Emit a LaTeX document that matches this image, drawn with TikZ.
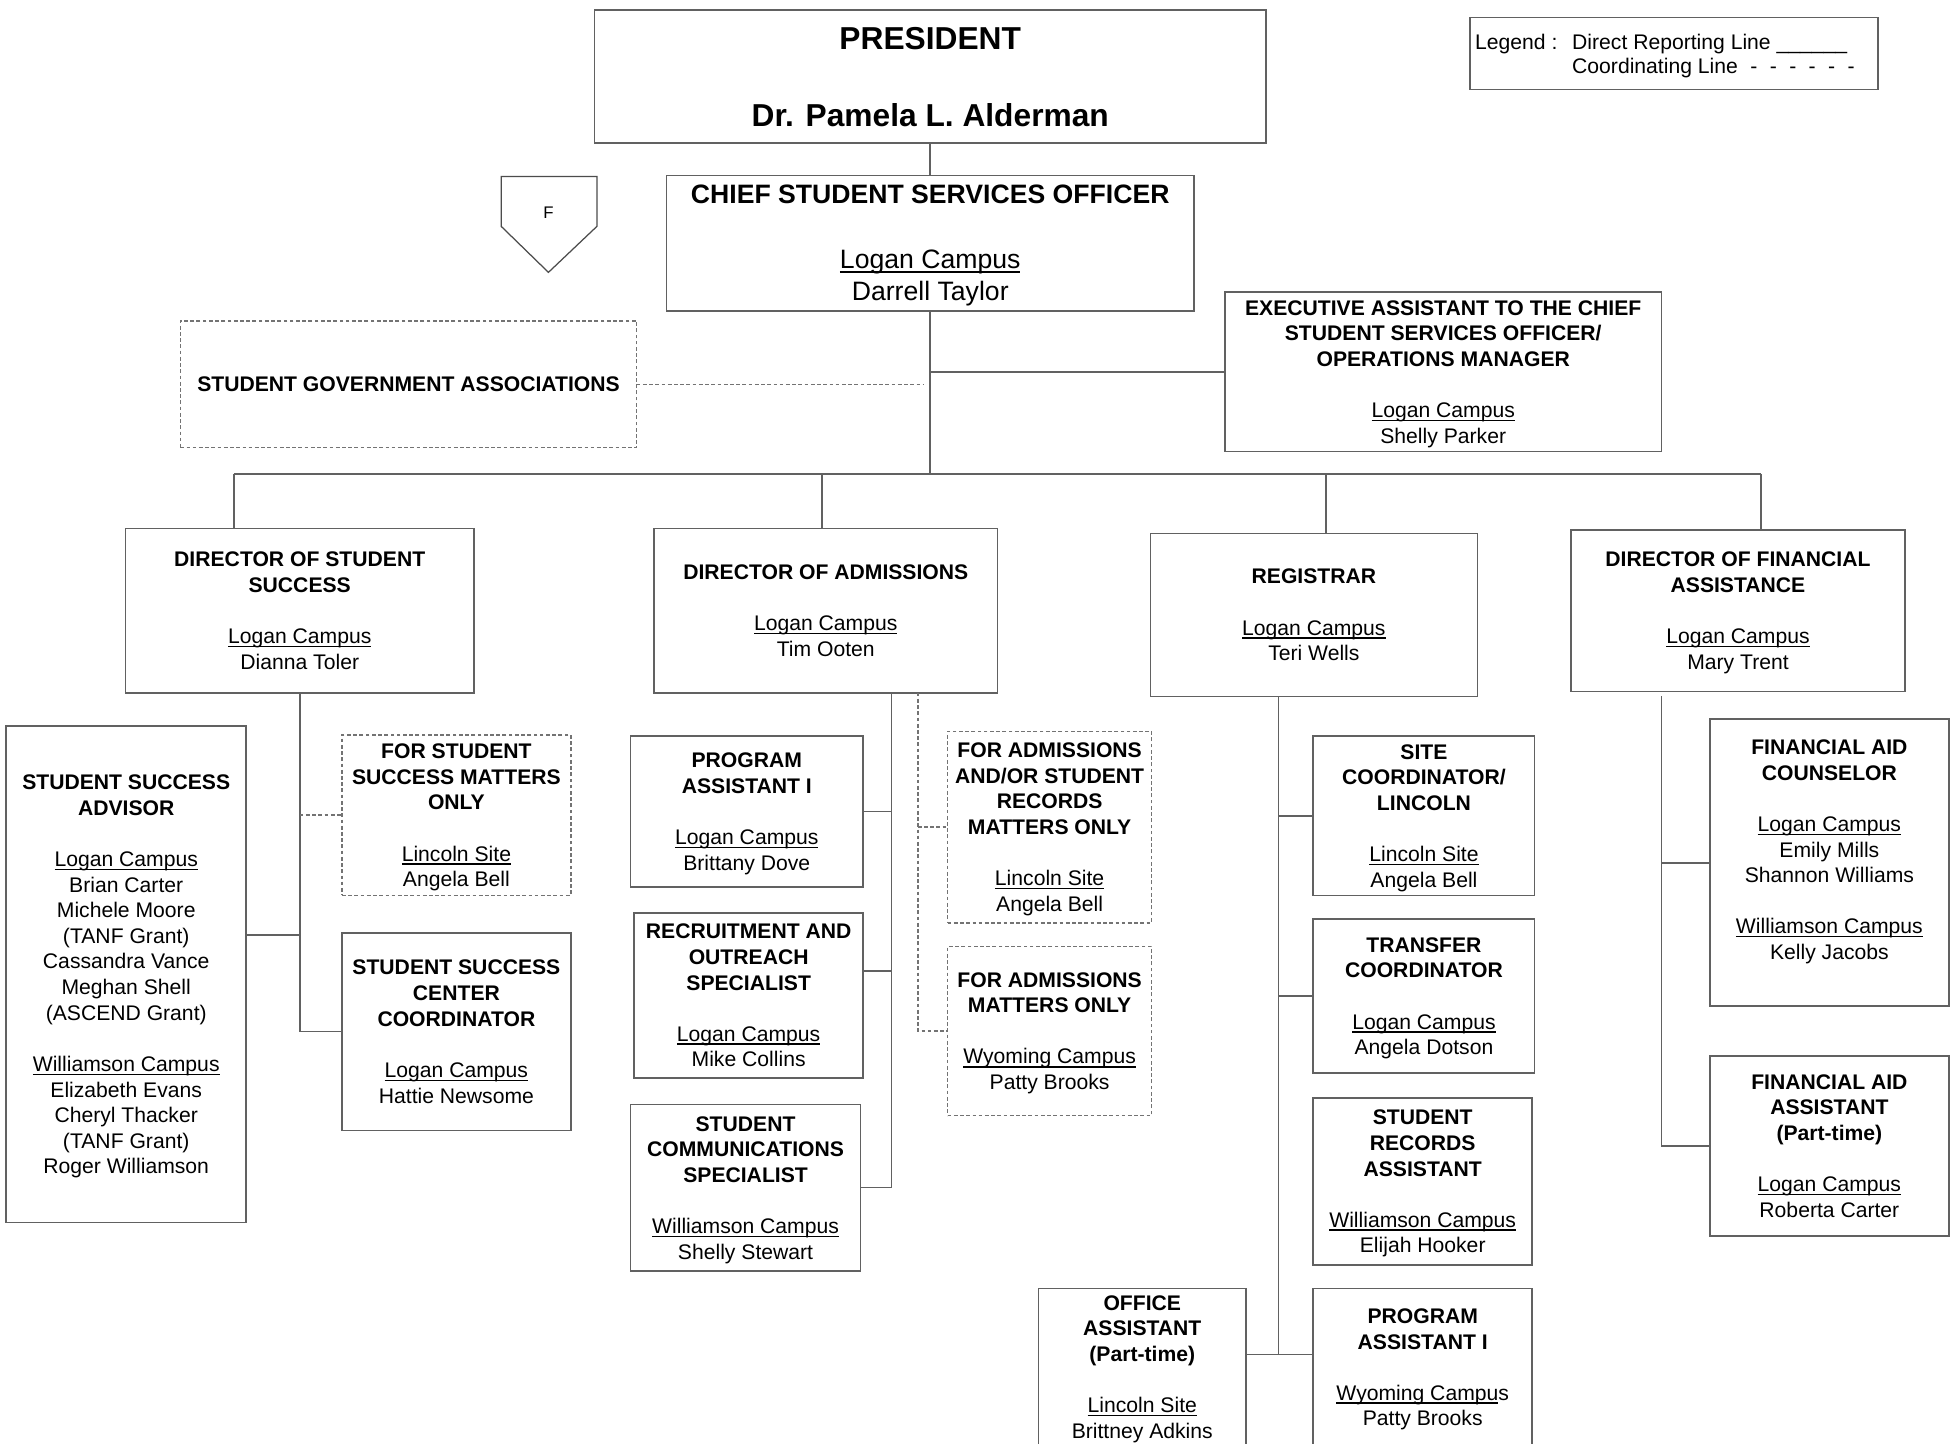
\documentclass[tikz,border=0pt]{standalone}
\usepackage{fontspec}
\setmainfont{Liberation Sans}
\newlength\ulw
\newcommand\myul[1]{\settowidth\ulw{#1}\rlap{\rule[-0.17em]{\ulw}{0.07em}}#1}
\newcommand\bx[7]{\node[#6, minimum width={#4-#2}, minimum height={#5-#3}] (#1) at ({(#2+#4)/2},{(#3+#5)/2}) {#7};}
\newcommand\tb[1]{\textbf{#1}}
\begin{document}
\begin{tikzpicture}[x=1pt,y=-1pt,
  lnk/.style={draw=black!62, line width=1.3pt},
  dlnk/.style={draw=black!55, line width=1.2pt, dash pattern=on 3pt off 2pt},
  bxs/.style={draw=black!62, line width=1.3pt, rectangle, inner sep=0pt, outer sep=0pt, align=center, text depth=0pt, font=\fontsize{17pt}{20.6pt}\selectfont},
  dbxs/.style={bxs, draw=black!55, line width=1.2pt, dash pattern=on 3pt off 2pt}]
\useasboundingbox (0,0) rectangle (1568,1161);
\fill[white] (0,0) rectangle (1568,1161);
\clip (0,0) rectangle (1568,1161);

% top
\bx{pres}{478}{8}{1018}{115}{bxs, font=\fontsize{25.5pt}{31pt}\selectfont\bfseries}{PRESIDENT\\[31pt]Dr. Pamela L. Alderman}
\bx{cso}{536}{141}{960}{250}{bxs, font=\fontsize{21.4pt}{26pt}\selectfont}{\tb{CHIEF STUDENT SERVICES OFFICER}\\[26pt]\myul{Logan Campus}\\Darrell Taylor}
\bx{exec}{985}{235}{1336}{363}{bxs}{\tb{EXECUTIVE ASSISTANT TO THE CHIEF}\\\tb{STUDENT SERVICES OFFICER/}\\\tb{OPERATIONS MANAGER}\\[20.6pt]\myul{Logan Campus}\\Shelly Parker}
\bx{sga}{145}{258}{512}{360}{dbxs}{\tb{STUDENT GOVERNMENT ASSOCIATIONS}}

% F marker
\draw[draw=black!70, line width=1pt] (403,142) -- (480,142) -- (480,182) -- (441,219) -- (403,182) -- cycle;
\node[font=\fontsize{13.5pt}{16pt}\selectfont, inner sep=0pt] (flabel) at (441,171) {F};

% legend
\bx{legend}{1182}{14}{1510}{72}{bxs}{}
\node[font=\fontsize{17pt}{20.6pt}\selectfont, inner sep=0pt, anchor=base west] (leglbl) at (1186,39.6) {Legend :};
\node[font=\fontsize{17pt}{20.6pt}\selectfont, inner sep=0pt, anchor=base west] (leg1) at (1264,39.6) {Direct Reporting Line \_\_\_\_\_\_};
\node[font=\fontsize{17pt}{20.6pt}\selectfont, inner sep=0pt, anchor=base west] (leg2) at (1264,58.9) {Coordinating Line\hspace{10pt}-\hspace{10pt}-\hspace{10pt}-\hspace{10pt}-\hspace{10pt}-\hspace{10pt}-};

% directors
\bx{dss}{101}{425}{381}{557}{bxs}{\tb{DIRECTOR OF STUDENT}\\\tb{SUCCESS}\\[20.6pt]\myul{Logan Campus}\\Dianna Toler}
\bx{doa}{526}{425}{802}{557}{bxs}{\tb{DIRECTOR OF ADMISSIONS}\\[20.6pt]\myul{Logan Campus}\\Tim Ooten}
\bx{reg}{925}{429}{1188}{560}{bxs}{\tb{REGISTRAR}\\[20.6pt]\myul{Logan Campus}\\Teri Wells}
\bx{dfa}{1263}{426}{1532}{556}{bxs}{\tb{DIRECTOR OF FINANCIAL}\\\tb{ASSISTANCE}\\[20.6pt]\myul{Logan Campus}\\Mary Trent}

% student success
\bx{ssa}{5}{584}{198}{983}{bxs}{\tb{STUDENT SUCCESS}\\\tb{ADVISOR}\\[20.6pt]\myul{Logan Campus}\\Brian Carter\\Michele Moore\\(TANF Grant)\\Cassandra Vance\\Meghan Shell\\(ASCEND Grant)\\[20.6pt]\myul{Williamson Campus}\\Elizabeth Evans\\Cheryl Thacker\\(TANF Grant)\\Roger Williamson}
\bx{fssmo}{275}{591}{459}{720}{dbxs}{\tb{FOR STUDENT}\\\tb{SUCCESS MATTERS}\\\tb{ONLY}\\[20.6pt]\myul{Lincoln Site}\\Angela Bell}
\bx{sscc}{275}{750}{459}{909}{bxs}{\tb{STUDENT SUCCESS}\\\tb{CENTER}\\\tb{COORDINATOR}\\[20.6pt]\myul{Logan Campus}\\Hattie Newsome}

% admissions
\bx{pa1}{507}{592}{694}{713}{bxs}{\tb{PROGRAM}\\\tb{ASSISTANT I}\\[20.6pt]\myul{Logan Campus}\\Brittany Dove}
\bx{ros}{510}{734}{694}{867}{bxs}{\tb{RECRUITMENT AND}\\\tb{OUTREACH}\\\tb{SPECIALIST}\\[20.6pt]\myul{Logan Campus}\\Mike Collins}
\bx{scs}{507}{888}{692}{1022}{bxs}{\tb{STUDENT}\\\tb{COMMUNICATIONS}\\\tb{SPECIALIST}\\[20.6pt]\myul{Williamson Campus}\\Shelly Stewart}
\bx{faas}{762}{588}{926}{742}{dbxs}{\tb{FOR ADMISSIONS}\\\tb{AND/OR STUDENT}\\\tb{RECORDS}\\\tb{MATTERS ONLY}\\[20.6pt]\myul{Lincoln Site}\\Angela Bell}
\bx{famo}{762}{761}{926}{897}{dbxs}{\tb{FOR ADMISSIONS}\\\tb{MATTERS ONLY}\\[20.6pt]\myul{Wyoming Campus}\\Patty Brooks}

% registrar
\bx{sitec}{1056}{592}{1234}{720}{bxs}{\tb{SITE}\\\tb{COORDINATOR/}\\\tb{LINCOLN}\\[20.6pt]\myul{Lincoln Site}\\Angela Bell}
\bx{transc}{1056}{739}{1234}{863}{bxs}{\tb{TRANSFER}\\\tb{COORDINATOR}\\[20.6pt]\myul{Logan Campus}\\Angela Dotson}
\bx{sra}{1056}{883}{1232}{1017}{bxs}{\tb{STUDENT}\\\tb{RECORDS}\\\tb{ASSISTANT}\\[20.6pt]\myul{Williamson Campus}\\Elijah Hooker}
\bx{oa}{835}{1036}{1002}{1162}{bxs}{\tb{OFFICE}\\\tb{ASSISTANT}\\\tb{(Part-time)}\\[20.6pt]\myul{Lincoln Site}\\Brittney Adkins}
\bx{pa1w}{1056}{1036}{1232}{1163}{bxs}{\tb{PROGRAM}\\\tb{ASSISTANT I}\\[20.6pt]\myul{Wyoming Campu}s\\Patty Brooks}

% financial
\bx{fac}{1375}{578}{1567}{809}{bxs}{\tb{FINANCIAL AID}\\\tb{COUNSELOR}\\[20.6pt]\myul{Logan Campus}\\Emily Mills\\Shannon Williams\\[20.6pt]\myul{Williamson Campus}\\Kelly Jacobs\\\mbox{}}
\bx{faa}{1375}{849}{1567}{994}{bxs}{\tb{FINANCIAL AID}\\\tb{ASSISTANT}\\\tb{(Part-time)}\\[20.6pt]\myul{Logan Campus}\\Roberta Carter}

% top connectors
\draw[lnk] (pres.south) -- (cso.north);
\coordinate (busc) at (748,381);
\draw[lnk] (cso.south) -- (busc);
\coordinate (exj) at (748,299);
\draw[lnk] (exj) -- (exec.west);
\coordinate (sgaend) at (743,309);
\draw[dlnk] (sga.east) -- (sgaend);
\coordinate (b1) at (188,381);
\coordinate (b2) at (661,381);
\coordinate (b3) at (1066,381);
\coordinate (b4) at (1416,381);
\draw[lnk] (b1) -- (b4);
\draw[lnk] (b1) -- (b1 |- dss.north);
\draw[lnk] (b2) -- (b2 |- doa.north);
\draw[lnk] (b3) -- (b3 |- reg.north);
\draw[lnk] (b4) -- (b4 |- dfa.north);

% student success connectors
\draw[lnk] (dss.south) -- (dss.south |- sscc.west) -- (sscc.west);
\coordinate (d1a) at (241,752);
\draw[lnk] (d1a) -- (d1a -| ssa.east);
\draw[dlnk] (dss.south |- fssmo.west) -- (fssmo.west);

% admissions connectors
\coordinate (d2top) at (717,557);
\draw[lnk] (d2top) -- (d2top |- scs.east) -- (scs.east);
\draw[lnk] (d2top |- pa1.east) -- (pa1.east);
\coordinate (d2r) at (717,781);
\draw[lnk] (d2r) -- (d2r -| ros.east);
\coordinate (d2dtop) at (738,557);
\draw[dlnk] (d2dtop) -- (d2dtop |- famo.west) -- (famo.west);
\draw[dlnk] (d2dtop |- faas.west) -- (faas.west);

% registrar connectors
\coordinate (r3top) at (1028,560);
\coordinate (r3bot) at (1028,1089);
\draw[lnk] (r3top) -- (r3bot);
\draw[lnk] (r3top |- sitec.west) -- (sitec.west);
\draw[lnk] (r3top |- transc.west) -- (transc.west);
\draw[lnk] (r3bot -| oa.east) -- (r3bot -| pa1w.west);

% financial connectors
\coordinate (f4top) at (1336,560);
\draw[lnk] (f4top) -- (f4top |- faa.west) -- (faa.west);
\coordinate (f4a) at (1336,694);
\draw[lnk] (f4a) -- (f4a -| fac.west);
\end{tikzpicture}
\end{document}
